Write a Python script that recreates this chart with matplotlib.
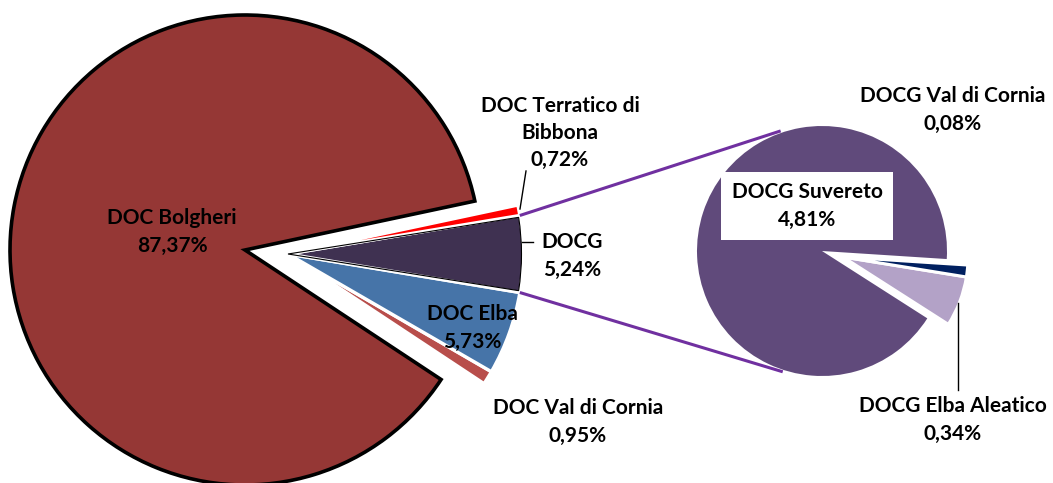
import numpy as np
import matplotlib
matplotlib.use("Agg")
import matplotlib.pyplot as plt
from matplotlib.patches import Wedge

# first pie: the big slice and the small slices that are split out
big_label = "DOC Bolgheri"
big_value = 87.37
small_labels = ["DOC Val di Cornia", "DOC Elba", "DOCG", "DOC Terratico di\nBibbona"]
small_values = [0.95, 5.73, 5.24, 0.72]

# second pie: breakdown of DOCG
docg_labels = ["DOCG Elba Aleatico", "DOCG Val di Cornia", "DOCG Suvereto"]
docg_values = [0.34, 0.08, 4.81]

big_color = "#953735"
small_colors = ["#B84E4B", "#4674A8", "#3F3151", "#FF0000"]
docg_colors = ["#B3A2C7", "#002060", "#604A7B"]
line_color = "#7030A0"

W, H = 1053, 483


def pct(v: float) -> str:
    return f"{v:.2f}".replace(".", ",") + "%"


def py(y: float) -> float:
    # image rows -> data y
    return H - y


plt.rcParams["font.family"] = ["Lato", "DejaVu Sans"]

fig = plt.figure(figsize=(W / 100, H / 100), dpi=100)
ax = fig.add_axes([0, 0, 1, 1])

# ---- left pie
left_c = (245, py(250))
group_c = (288, py(254))
r_left = 235
small_frac = np.array(small_values) / 100.0
# DOCG slice centred on the horizontal axis
start_small = -3.6 * (small_values[0] + small_values[1] + small_values[2] / 2)
start_big = start_small + 3.6 * sum(small_values)

ax.pie([big_value / 100.0], normalize=False, startangle=start_big, center=left_c,
       radius=r_left, colors=[big_color],
       wedgeprops=dict(edgecolor="black", linewidth=2.6))
wedges, _ = ax.pie(small_frac, normalize=False, startangle=start_small, center=group_c,
                   radius=r_left, colors=small_colors,
                   wedgeprops=dict(edgecolor="white", linewidth=2.4))
docg_w = wedges[2]
ax.add_patch(Wedge(docg_w.center, docg_w.r - 1.5, docg_w.theta1 + 0.4, docg_w.theta2 - 0.4,
                   fill=False, edgecolor="black", linewidth=0.8))

# ---- right pie
right_c = (822, py(251))
right_group_c = (843, py(257))
r_right = 125
tot = sum(docg_values)
start_r = -32.6
minor = np.array(docg_values[:2]) / tot
ax.pie([docg_values[2] / tot], normalize=False, startangle=start_r + 360 * minor.sum(),
       center=right_c, radius=r_right, colors=[docg_colors[2]],
       wedgeprops=dict(linewidth=0))
ax.pie(minor, normalize=False, startangle=start_r, center=right_group_c,
       radius=r_right, colors=docg_colors[:2],
       wedgeprops=dict(edgecolor="white", linewidth=2.2))

# ---- connector lines
for ang_l, ang_r in [(docg_w.theta2, 109), (docg_w.theta1, -108)]:
    x0 = group_c[0] + r_left * np.cos(np.radians(ang_l))
    y0 = group_c[1] + r_left * np.sin(np.radians(ang_l))
    x1 = right_c[0] + 127 * np.cos(np.radians(ang_r))
    y1 = right_c[1] + 127 * np.sin(np.radians(ang_r))
    ax.plot([x0, x1], [y0, y1], color=line_color, linewidth=2.2, solid_capstyle="butt")

# ---- labels
fs = 15
lsp = 1.45
txt = dict(ha="center", va="center", fontsize=fs, fontweight="bold",
           linespacing=lsp, color="black")

ax.text(172, py(232), f"{big_label}\n{pct(big_value)}", **txt)
small_pos = [(578, 422), (472, 328), (572, 256), (560, 133)]
for lab, v, (x, y) in zip(small_labels, small_values, small_pos):
    ax.text(x, py(y), f"{lab}\n{pct(v)}", **txt)

docg_pos = [(953, 420), (953, 110), (807, 206)]
for lab, v, (x, y) in zip(docg_labels, docg_values, docg_pos):
    kw = dict(txt)
    if lab == "DOCG Suvereto":
        kw["bbox"] = dict(boxstyle="square,pad=0.5", facecolor="white", edgecolor="none")
    ax.text(x, py(y), f"{lab}\n{pct(v)}", **kw)

# leader lines
ax.plot([526, 520], [py(171), py(209)], color="black", linewidth=1.0)
ax.plot([522, 533], [py(242), py(242)], color="black", linewidth=1.0)
ax.plot([958, 958], [py(303), py(390)], color="black", linewidth=1.0)

ax.set_xlim(0, W)
ax.set_ylim(0, H)
ax.set_aspect("equal")
ax.axis("off")

fig.savefig("out.png", dpi=100, facecolor="white")
